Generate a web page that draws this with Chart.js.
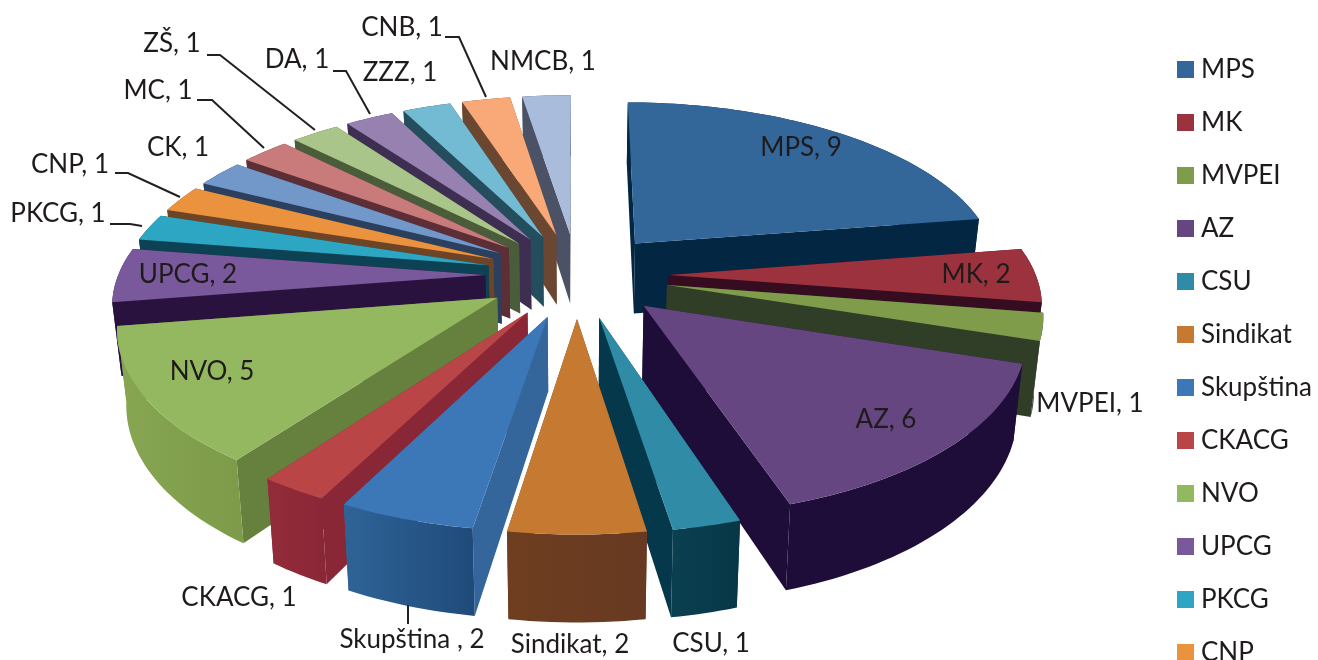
<!DOCTYPE html>
<html>
<head>
<meta charset="utf-8">
<title>Pie</title>
<script src="https://cdn.jsdelivr.net/npm/chart.js@4"></script>
<style>
  html, body { margin: 0; padding: 0; background: #fff; overflow: hidden; }
  canvas { display: block; }
</style>
</head>
<body>
<canvas id="pie" width="1318" height="660"></canvas>
<script>
const categories = ['MPS', 'MK', 'MVPEI', 'AZ', 'CSU', 'Sindikat', 'Skupština ', 'CKACG', 'NVO', 'UPCG',
  'PKCG', 'CNP', 'CK', 'MC', 'ZŠ', 'DA', 'ZZZ', 'CNB', 'NMCB'];
const values = [9, 2, 1, 6, 1, 2, 2, 1, 5, 2, 1, 1, 1, 1, 1, 1, 1, 1, 1];

const topColors = ['#336699', '#9c323d', '#7f9c4b', '#654681', '#2f8ba6', '#c67a31', '#3c77b8', '#b94547', '#94b860', '#79589b',
  '#2ca6c3', '#ea923e', '#7297c9', '#c97a7b', '#a9c589', '#9781b0', '#72bbd2', '#f9a978', '#a9bcdb'];
const wallColors = ['#032642', '#360d20', '#303e28', '#1e0d38', '#04384a', '#6f4020', '#34659b', '#8a2736', '#66813d', '#2a123f',
  '#0c4254', '#6d4526', '#2b3f5e', '#5c2f37', '#4a5c39', '#3e2f52', '#244e5e', '#6b4630', '#4b5265'];
const rimLeft = ['#032642', '#360d20', '#303e28', '#1e0d38', '#0b4051', '#6f3e20', '#2f6397', '#932b3a', '#87a652', '#2a123f',
  '#0c4254', '#6d4526', '#2b3f5e', '#5c2f37', '#4a5c39', '#3e2f52', '#244e5e', '#6b4630', '#4b5265'];
const rimRight = ['#032642', '#360d20', '#303e28', '#1e0d38', '#063747', '#673a21', '#1f4b7a', '#8a2736', '#7d9b49', '#2a123f',
  '#0c4254', '#6d4526', '#2b3f5e', '#5c2f37', '#4a5c39', '#3e2f52', '#244e5e', '#6b4630', '#4b5265'];

// text centres of the data labels, same order as categories
const labelCentres = [[801, 148], [976, 275], [1090, 404], [886, 420], [711, 644], [570, 645], [412, 640], [239, 598],
  [212, 372], [188, 275], [58, 214], [70, 165], [178, 148], [158, 91], [172, 44], [297, 60], [400, 73], [402, 28], [543, 62]];
const leaders = [
  [[110, 224], [130, 224], [142, 226]],
  [[115, 173], [128, 173], [180, 197]],
  [[197, 100], [212, 100], [264, 148]],
  [[207, 55], [220, 55], [315, 130]],
  [[333, 71], [346, 71], [370, 114]],
  [[445, 37], [459, 37], [486, 97]],
  [[408, 605], [408, 624]]
];

const FONT = '26px Lato';
const TEXT = '#1f1b1c';

// camera for the tilted pie
const CX = 577, CY = 275, SX = 367, SY = 170, PERSP = 0.145, DEPTH = 72, BOTTOM_SCALE = 0.98, EXPLODE = 0.25;

function project(x, y, low) {
  const f = 1 / (1 - PERSP * y);
  let px = CX + SX * x * f;
  let py = CY + SY * y * f;
  if (low) {
    px = CX + (px - CX) * BOTTOM_SCALE;
    py += DEPTH * f;
  }
  return [px, py];
}

function fillPoly(ctx, pts, fill) {
  ctx.beginPath();
  pts.forEach((p, i) => i ? ctx.lineTo(p[0], p[1]) : ctx.moveTo(p[0], p[1]));
  ctx.closePath();
  ctx.fillStyle = fill;
  ctx.fill();
}

const tiltedPie = {
  id: 'tiltedPie',
  beforeDatasetsDraw(chart) {
    const ctx = chart.ctx;
    const arcs = chart.getDatasetMeta(0).data.map((arc, index) => ({ arc, index }));
    // back slices first
    arcs.sort((a, b) => {
      const ma = (a.arc.startAngle + a.arc.endAngle) / 2;
      const mb = (b.arc.startAngle + b.arc.endAngle) / 2;
      return Math.sin(ma) - Math.sin(mb);
    });
    arcs.forEach(({ arc, index }) => {
      const mid = (arc.startAngle + arc.endAngle) / 2;
      const ox = EXPLODE * Math.cos(mid);
      const oy = EXPLODE * Math.sin(mid);
      const steps = Math.max(8, Math.round((arc.endAngle - arc.startAngle) * 40));
      const rimTop = [];
      const rimLow = [];
      for (let i = 0; i <= steps; i++) {
        const a = arc.startAngle + (arc.endAngle - arc.startAngle) * i / steps;
        const x = ox + Math.cos(a);
        const y = oy + Math.sin(a);
        rimTop.push(project(x, y, false));
        rimLow.push(project(x, y, true));
      }
      const tipTop = project(ox, oy, false);
      const tipLow = project(ox, oy, true);
      const first = rimTop.length - 1;

      fillPoly(ctx, [tipTop, rimTop[0], rimLow[0], tipLow], wallColors[index]);
      fillPoly(ctx, [tipTop, rimTop[first], rimLow[first], tipLow], wallColors[index]);

      const xs = rimTop.map(p => p[0]);
      const grad = ctx.createLinearGradient(Math.min(...xs), 0, Math.max(...xs), 0);
      grad.addColorStop(0, rimLeft[index]);
      grad.addColorStop(1, rimRight[index]);
      fillPoly(ctx, rimTop.concat(rimLow.slice().reverse()), grad);

      fillPoly(ctx, [tipTop].concat(rimTop), topColors[index]);
    });
    return false;
  },
  afterDraw(chart) {
    const ctx = chart.ctx;
    ctx.save();
    ctx.font = FONT;
    ctx.fillStyle = TEXT;
    ctx.textAlign = 'center';
    ctx.textBaseline = 'middle';
    chart.data.labels.forEach((name, i) => {
      ctx.fillText(name + ', ' + chart.data.datasets[0].data[i], labelCentres[i][0], labelCentres[i][1]);
    });

    ctx.strokeStyle = '#231f20';
    ctx.lineWidth = 2;
    leaders.forEach(line => {
      ctx.beginPath();
      line.forEach((p, i) => i ? ctx.lineTo(p[0], p[1]) : ctx.moveTo(p[0], p[1]));
      ctx.stroke();
    });

    // legend runs off the bottom of the picture, as in the source
    ctx.textAlign = 'left';
    chart.data.labels.forEach((name, i) => {
      const y = 69 + i * 53;
      ctx.fillStyle = topColors[i];
      ctx.fillRect(1177, y - 8, 17, 17);
      ctx.fillStyle = TEXT;
      ctx.fillText(name.trim(), 1201, y + 1);
    });
    ctx.restore();
  }
};

new Chart(document.getElementById('pie').getContext('2d'), {
  type: 'pie',
  data: {
    labels: categories,
    datasets: [{ data: values, backgroundColor: topColors }]
  },
  options: {
    responsive: false,
    animation: false,
    plugins: { legend: { display: false }, tooltip: { enabled: false } }
  },
  plugins: [tiltedPie]
});
</script>
</body>
</html>
